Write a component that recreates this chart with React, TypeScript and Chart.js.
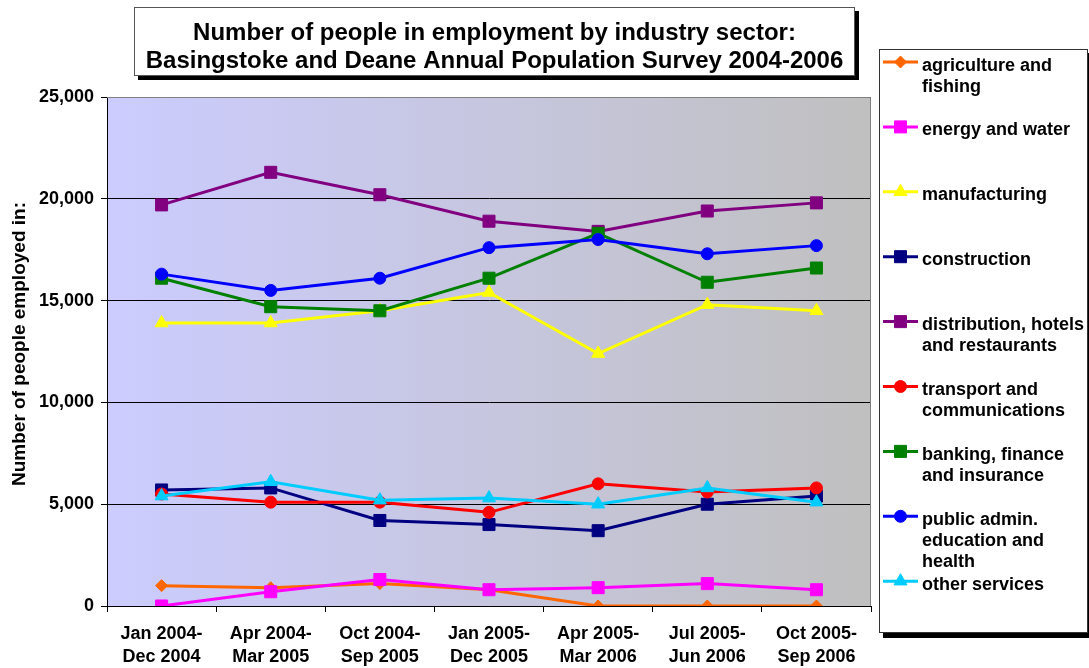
import React, { useEffect, useRef } from "react";
import { Chart, registerables } from "chart.js";

Chart.register(...registerables);

const FONT = "'Liberation Sans', Arial, Helvetica, sans-serif";

const titleLines = [
  "Number of people in employment by industry sector:",
  "Basingstoke and Deane Annual Population Survey 2004-2006",
];
const yAxisTitle = "Number of people employed in:";

const categories = [
  ["Jan 2004-", "Dec 2004"],
  ["Apr 2004-", "Mar 2005"],
  ["Oct 2004-", "Sep 2005"],
  ["Jan 2005-", "Dec 2005"],
  ["Apr 2005-", "Mar 2006"],
  ["Jul 2005-", "Jun 2006"],
  ["Oct 2005-", "Sep 2006"],
];

const yTicks = [0, 5000, 10000, 15000, 20000, 25000];

const agriculture = [1000, 900, 1100, 800, 0, 0, 0];
const energy = [0, 700, 1300, 800, 900, 1100, 800];
const manufacturing = [13900, 13900, 14500, 15400, 12400, 14800, 14500];
const construction = [5700, 5800, 4200, 4000, 3700, 5000, 5400];
const distribution = [19700, 21300, 20200, 18900, 18400, 19400, 19800];
const transport = [5500, 5100, 5100, 4600, 6000, 5600, 5800];
const banking = [16100, 14700, 14500, 16100, 18300, 15900, 16600];
const publicAdmin = [16300, 15500, 16100, 17600, 18000, 17300, 17700];
const otherServices = [5400, 6100, 5200, 5300, 5000, 5800, 5100];

const seriesLabels = [
  ["agriculture and", "fishing"],
  ["energy and water"],
  ["manufacturing"],
  ["construction"],
  ["distribution, hotels", "and restaurants"],
  ["transport and", "communications"],
  ["banking, finance", "and insurance"],
  ["public admin.", "education and", "health"],
  ["other services"],
];
const seriesValues = [
  agriculture,
  energy,
  manufacturing,
  construction,
  distribution,
  transport,
  banking,
  publicAdmin,
  otherServices,
];
const seriesColors = [
  "#FF6600",
  "#FF00FF",
  "#FFFF00",
  "#000080",
  "#800080",
  "#FF0000",
  "#008000",
  "#0000FF",
  "#00CCFF",
];
const seriesMarkers = [
  "rectRot",
  "rect",
  "triangle",
  "rect",
  "rect",
  "circle",
  "rect",
  "circle",
  "triangle",
];
const markerRadius: Record<string, number> = {
  rectRot: 6,
  rect: 8.5,
  triangle: 7.5,
  circle: 6,
};

function drawMarker(
  ctx: CanvasRenderingContext2D,
  style: string,
  x: number,
  y: number,
  r: number,
  color: string
) {
  ctx.save();
  ctx.fillStyle = color;
  ctx.strokeStyle = color;
  ctx.lineWidth = 1;
  ctx.beginPath();
  if (style === "circle") {
    ctx.arc(x, y, r, 0, Math.PI * 2);
  } else if (style === "rect") {
    const s = r * Math.SQRT1_2;
    ctx.rect(x - s, y - s, 2 * s, 2 * s);
  } else if (style === "rectRot") {
    ctx.moveTo(x, y - r);
    ctx.lineTo(x + r, y);
    ctx.lineTo(x, y + r);
    ctx.lineTo(x - r, y);
    ctx.closePath();
  } else if (style === "triangle") {
    let a = 0;
    ctx.moveTo(x + Math.sin(a) * r, y - Math.cos(a) * r);
    a += (2 * Math.PI) / 3;
    ctx.lineTo(x + Math.sin(a) * r, y - Math.cos(a) * r);
    a += (2 * Math.PI) / 3;
    ctx.lineTo(x + Math.sin(a) * r, y - Math.cos(a) * r);
    ctx.closePath();
  }
  ctx.fill();
  ctx.stroke();
  ctx.restore();
}

const decorPlugin = {
  id: "decor",
  beforeDraw(chart: any) {
    const { ctx, chartArea } = chart;
    const { left, right, top, bottom } = chartArea;
    ctx.save();
    const g = ctx.createLinearGradient(left, 0, right, 0);
    g.addColorStop(0, "#CCCCFF");
    g.addColorStop(1, "#C0C0C0");
    ctx.fillStyle = g;
    ctx.fillRect(left, top, right - left, bottom - top);
    ctx.restore();
  },
  beforeDatasetsDraw(chart: any) {
    const { ctx, chartArea } = chart;
    const { left, right, top, bottom } = chartArea;
    ctx.save();
    ctx.strokeStyle = "#808080";
    ctx.lineWidth = 1;
    ctx.beginPath();
    ctx.moveTo(left, Math.round(top) + 0.5);
    ctx.lineTo(Math.round(right) - 0.5, Math.round(top) + 0.5);
    ctx.lineTo(Math.round(right) - 0.5, bottom);
    ctx.stroke();
    ctx.restore();
  },
  afterDraw(chart: any) {
    const ctx: CanvasRenderingContext2D = chart.ctx;
    ctx.save();
    // Title box
    ctx.fillStyle = "#000";
    ctx.fillRect(138, 11, 721, 69);
    ctx.fillStyle = "#fff";
    ctx.fillRect(134, 7, 721, 69);
    ctx.strokeStyle = "#555";
    ctx.lineWidth = 1;
    ctx.strokeRect(134.5, 7.5, 720, 68);
    ctx.fillStyle = "#000";
    ctx.font = `bold 24px ${FONT}`;
    ctx.textAlign = "center";
    ctx.textBaseline = "alphabetic";
    ctx.fillText(titleLines[0], 494.5, 40);
    ctx.fillText(titleLines[1], 494.5, 67.5);

    // Y axis title
    ctx.save();
    ctx.translate(20, 344);
    ctx.rotate(-Math.PI / 2);
    ctx.font = `bold 19px ${FONT}`;
    ctx.textAlign = "center";
    ctx.textBaseline = "middle";
    ctx.fillText(yAxisTitle, 0, 0);
    ctx.restore();

    // Legend box
    ctx.fillStyle = "#000";
    ctx.fillRect(883, 53, 210, 585);
    ctx.fillStyle = "#fff";
    ctx.fillRect(879, 49, 209, 584);
    ctx.strokeStyle = "#333";
    ctx.strokeRect(879.5, 49.5, 208, 583);

    ctx.font = `bold 18px ${FONT}`;
    ctx.textAlign = "left";
    ctx.textBaseline = "alphabetic";
    for (let i = 0; i < seriesLabels.length; i++) {
      const my = 62 + i * 64.9;
      const color = seriesColors[i];
      ctx.strokeStyle = color;
      ctx.lineWidth = 3;
      ctx.beginPath();
      ctx.moveTo(883, my);
      ctx.lineTo(918, my);
      ctx.stroke();
      drawMarker(ctx, seriesMarkers[i], 900.5, my, markerRadius[seriesMarkers[i]], color);
      ctx.fillStyle = "#000";
      seriesLabels[i].forEach((line, j) => {
        ctx.fillText(line, 922, my + 8.5 + j * 21);
      });
    }
    ctx.restore();
  },
};

export default function App() {
  const canvasRef = useRef<HTMLCanvasElement | null>(null);

  useEffect(() => {
    if (!canvasRef.current) return;
    const n = seriesValues.length;
    const chart = new Chart(canvasRef.current, {
      type: "line",
      data: {
        labels: categories as any,
        datasets: seriesValues.map((vals, i) => ({
          label: seriesLabels[i].join(" "),
          data: vals,
          borderColor: seriesColors[i],
          backgroundColor: seriesColors[i],
          pointBackgroundColor: seriesColors[i],
          pointBorderColor: seriesColors[i],
          pointBorderWidth: 1,
          pointStyle: seriesMarkers[i] as any,
          pointRadius: markerRadius[seriesMarkers[i]],
          borderWidth: 3,
          tension: 0,
          fill: false,
          order: n - i,
        })),
      },
      options: {
        animation: false,
        responsive: false,
        maintainAspectRatio: false,
        devicePixelRatio: 1,
        layout: { padding: { top: 97, right: 218, left: 0, bottom: 0 } },
        plugins: {
          legend: { display: false },
          title: { display: false },
          tooltip: { enabled: false },
        },
        scales: {
          x: {
            type: "category",
            offset: true,
            afterFit: (s: any) => {
              s.height = 62;
            },
            grid: {
              offset: true,
              drawOnChartArea: false,
              drawTicks: true,
              tickLength: 6,
              tickColor: "#000",
            },
            border: { color: "#000", width: 1 },
            ticks: {
              color: "#000",
              font: { family: FONT, size: 18, weight: "bold", lineHeight: 23 / 18 },
              padding: 11,
              maxRotation: 0,
              autoSkip: false,
            },
          },
          y: {
            min: 0,
            max: 25000,
            afterFit: (s: any) => {
              s.width = 107;
            },
            afterBuildTicks: (s: any) => {
              s.ticks = yTicks.map((v) => ({ value: v }));
            },
            grid: {
              color: (c: any) => (c.tick && c.tick.value === 25000 ? "#808080" : "#000"),
              tickColor: "#000",
              tickLength: 6,
              lineWidth: 1,
            },
            border: { color: "#000", width: 1 },
            ticks: {
              color: "#000",
              font: { family: FONT, size: 18, weight: "bold" },
              padding: 7,
              callback: (v: any) => Number(v).toLocaleString("en-US"),
            },
          },
        },
      },
      plugins: [decorPlugin],
    });
    return () => chart.destroy();
  }, []);

  return (
    <div style={{ position: "fixed", left: 0, top: 0, width: 1089, height: 668, background: "#fff" }}>
      <canvas ref={canvasRef} width={1089} height={668} style={{ width: 1089, height: 668 }} />
    </div>
  );
}
